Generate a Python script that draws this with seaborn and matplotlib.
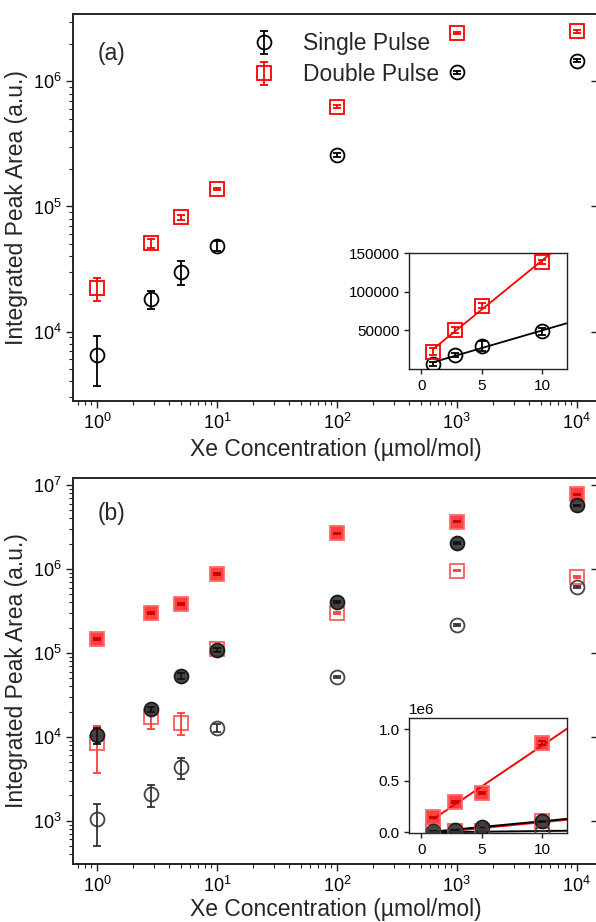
import numpy as np
import matplotlib
matplotlib.use("Agg")
import matplotlib.pyplot as plt
import seaborn as sns

# Xe concentrations (umol/mol)
conc = [1, 2.8, 5, 10, 100, 1000, 10000]

# panel (a)
a_single = [6500, 18200, 29900, 48700, 258000, 1.18e6, 1.47e6]
a_single_err = [2800, 3000, 6500, 4500, 8000, 30000, 40000]
a_double = [22200, 50600, 82200, 138600, 6.3e5, 2.44e6, 2.51e6]
a_double_err = [4700, 4000, 3500, 3000, 15000, 50000, 50000]

# panel (b)
b_double_fill = [147000, 295000, 382000, 869000, 2.65e6, 3.66e6, 7.74e6]
b_double_fill_err = [5000, 8000, 10000, 20000, 50000, 80000, 150000]
b_double_open = [8500, 17000, 14800, 110000, 295000, 953000, 795000]
b_double_open_err = [4800, 4500, 4200, 4000, 8000, 20000, 20000]
b_single_fill = [10600, 21400, 52900, 108000, 406000, 2.05e6, 5.73e6]
b_single_fill_err = [2300, 1500, 4000, 5000, 10000, 40000, 100000]
b_single_open = [1040, 2060, 4320, 12800, 51900, 214000, 604000]
b_single_open_err = [540, 600, 1200, 1500, 1500, 6000, 15000]

n_lin = 4  # points used in the linear insets

sns.set_theme(style="ticks")
plt.rcParams["font.family"] = ["Liberation Sans", "DejaVu Sans"]
plt.rcParams["mathtext.fontset"] = "custom"
plt.rcParams["mathtext.rm"] = "Liberation Sans"
plt.rcParams["mathtext.it"] = "Liberation Sans:italic"
plt.rcParams["mathtext.bf"] = "Liberation Sans:bold"

RED = "#ff0000"
BLACK = "#000000"

fig = plt.figure(figsize=(5.96, 9.22), dpi=100)
ax_a = fig.add_axes([0.123, 0.5654, 0.880, 0.4194])
ax_b = fig.add_axes([0.123, 0.0629, 0.880, 0.4192])


def style_main(ax, ylim):
    ax.set_xscale("log")
    ax.set_yscale("log")
    ax.set_xlim(0.635, 1.5e4)
    ax.set_ylim(*ylim)
    ax.tick_params(which="both", direction="out", top=False, right=False,
                   colors="#222222", labelcolor="black")
    ax.tick_params(which="major", length=5, width=1, labelsize=13)
    ax.tick_params(which="minor", length=3, width=0.8)
    for sp in ax.spines.values():
        sp.set_linewidth(1.2)
        sp.set_color("#222222")
    tw = ax.twinx()
    tw.set_yscale("log")
    tw.set_ylim(*ylim)
    tw.tick_params(which="major", direction="in", length=5, width=1,
                   labelright=False, colors="#222222")
    tw.tick_params(which="minor", length=0)
    tw.grid(False)
    ax.set_xlabel("Xe Concentration (µmol/mol)", fontsize=16.5)
    ax.set_ylabel("Integrated Peak Area (a.u.)", fontsize=16.5)
    ax.yaxis.set_label_coords(-0.0863, 0.5)


def style_inset(ins, ylim, yticks):
    ins.set_xlim(-1, 12)
    ins.set_xticks([0, 5, 10])
    ins.set_ylim(*ylim)
    ins.set_yticks(yticks)
    ins.tick_params(direction="out", length=3.5, width=1, labelsize=11,
                    colors="#222222", labelcolor="black")
    for sp in ins.spines.values():
        sp.set_linewidth(1)
        sp.set_color("#222222")
    ins.yaxis.get_offset_text().set_fontsize(11)


def fit_line(ins, x, y, color, lw=1.3):
    k, b0 = np.polyfit(x, y, 1)
    xs = np.linspace(x[0], 12, 20)
    sns.lineplot(x=xs, y=k * xs + b0, color=color, lw=lw, ax=ins, zorder=1)


ms = 10
eb = dict(capsize=3, elinewidth=1.3, capthick=1.3, ls="none", mew=1.3, ms=ms)

# ---------------- panel (a) ----------------
style_main(ax_a, (2800, 3.46e6))
ax_a.errorbar(conc, a_single, yerr=a_single_err, fmt="o", color=BLACK,
              mfc="none", label="Single Pulse", zorder=3, **eb)
ax_a.errorbar(conc, a_double, yerr=a_double_err, fmt="s", color=RED,
              mfc="none", label="Double Pulse", zorder=3, **eb)
ax_a.legend(loc="upper left", bbox_to_anchor=(0.3196, 0.953), frameon=False,
            fontsize=16.5, borderpad=0, borderaxespad=0, handletextpad=0.72,
            labelspacing=0.36, handlelength=2)
ax_a.text(0.047, 0.899, "(a)", transform=ax_a.transAxes, fontsize=16.5,
          va="center", ha="left")

ins_a = fig.add_axes([0.6867, 0.5998, 0.2641, 0.1255])
style_inset(ins_a, (0, 150000), [50000, 100000, 150000])
x4 = np.array(conc[:n_lin], dtype=float)
fit_line(ins_a, x4, np.array(a_double[:n_lin]), RED)
fit_line(ins_a, x4, np.array(a_single[:n_lin]), BLACK)
ins_a.errorbar(x4, a_single[:n_lin], yerr=a_single_err[:n_lin], fmt="o",
               color=BLACK, mfc="none", zorder=3, **eb)
ins_a.errorbar(x4, a_double[:n_lin], yerr=a_double_err[:n_lin], fmt="s",
               color=RED, mfc="none", zorder=3, **eb)

# ---------------- panel (b) ----------------
style_main(ax_b, (305, 1.23e7))
ax_b.xaxis.labelpad = 1.5
series_b = [
    (b_double_fill, b_double_fill_err, "s", (1, 0, 0, 0.75), "#ff6a6a", "#cc0000", RED),
    (b_double_open, b_double_open_err, "s", "none", "#ff5a5a", "#ff3b3b", RED),
    (b_single_fill, b_single_fill_err, "o", (0.2, 0.2, 0.2, 0.9), "#1a1a1a", "#111111", BLACK),
    (b_single_open, b_single_open_err, "o", "none", "#444444", "#333333", BLACK),
]

ins_b = fig.add_axes([0.6867, 0.0962, 0.2641, 0.1247])
style_inset(ins_b, (-0.01e6, 1.107e6), [0, 0.5e6, 1.0e6])

for i, (vals, errs, mk, fc, ec, barc, linec) in enumerate(series_b):
    z = 2 + i * 0.5
    for ax, xs, ys, es in [(ax_b, conc, vals, errs),
                           (ins_b, conc[:n_lin], vals[:n_lin], errs[:n_lin])]:
        ax.plot(xs, ys, ls="none", marker=mk, ms=ms, mfc=fc, mec=ec,
                mew=1.3, zorder=z)
        ax.errorbar(xs, ys, yerr=es, fmt="none", ecolor=barc, capsize=3,
                    elinewidth=1.3, capthick=1.3, zorder=z + 0.1)
    fit_line(ins_b, x4, np.array(vals[:n_lin], dtype=float), linec, lw=1.4)

ax_b.text(0.047, 0.907, "(b)", transform=ax_b.transAxes, fontsize=16.5,
          va="center", ha="left")

fig.savefig("out.png", dpi=100)
